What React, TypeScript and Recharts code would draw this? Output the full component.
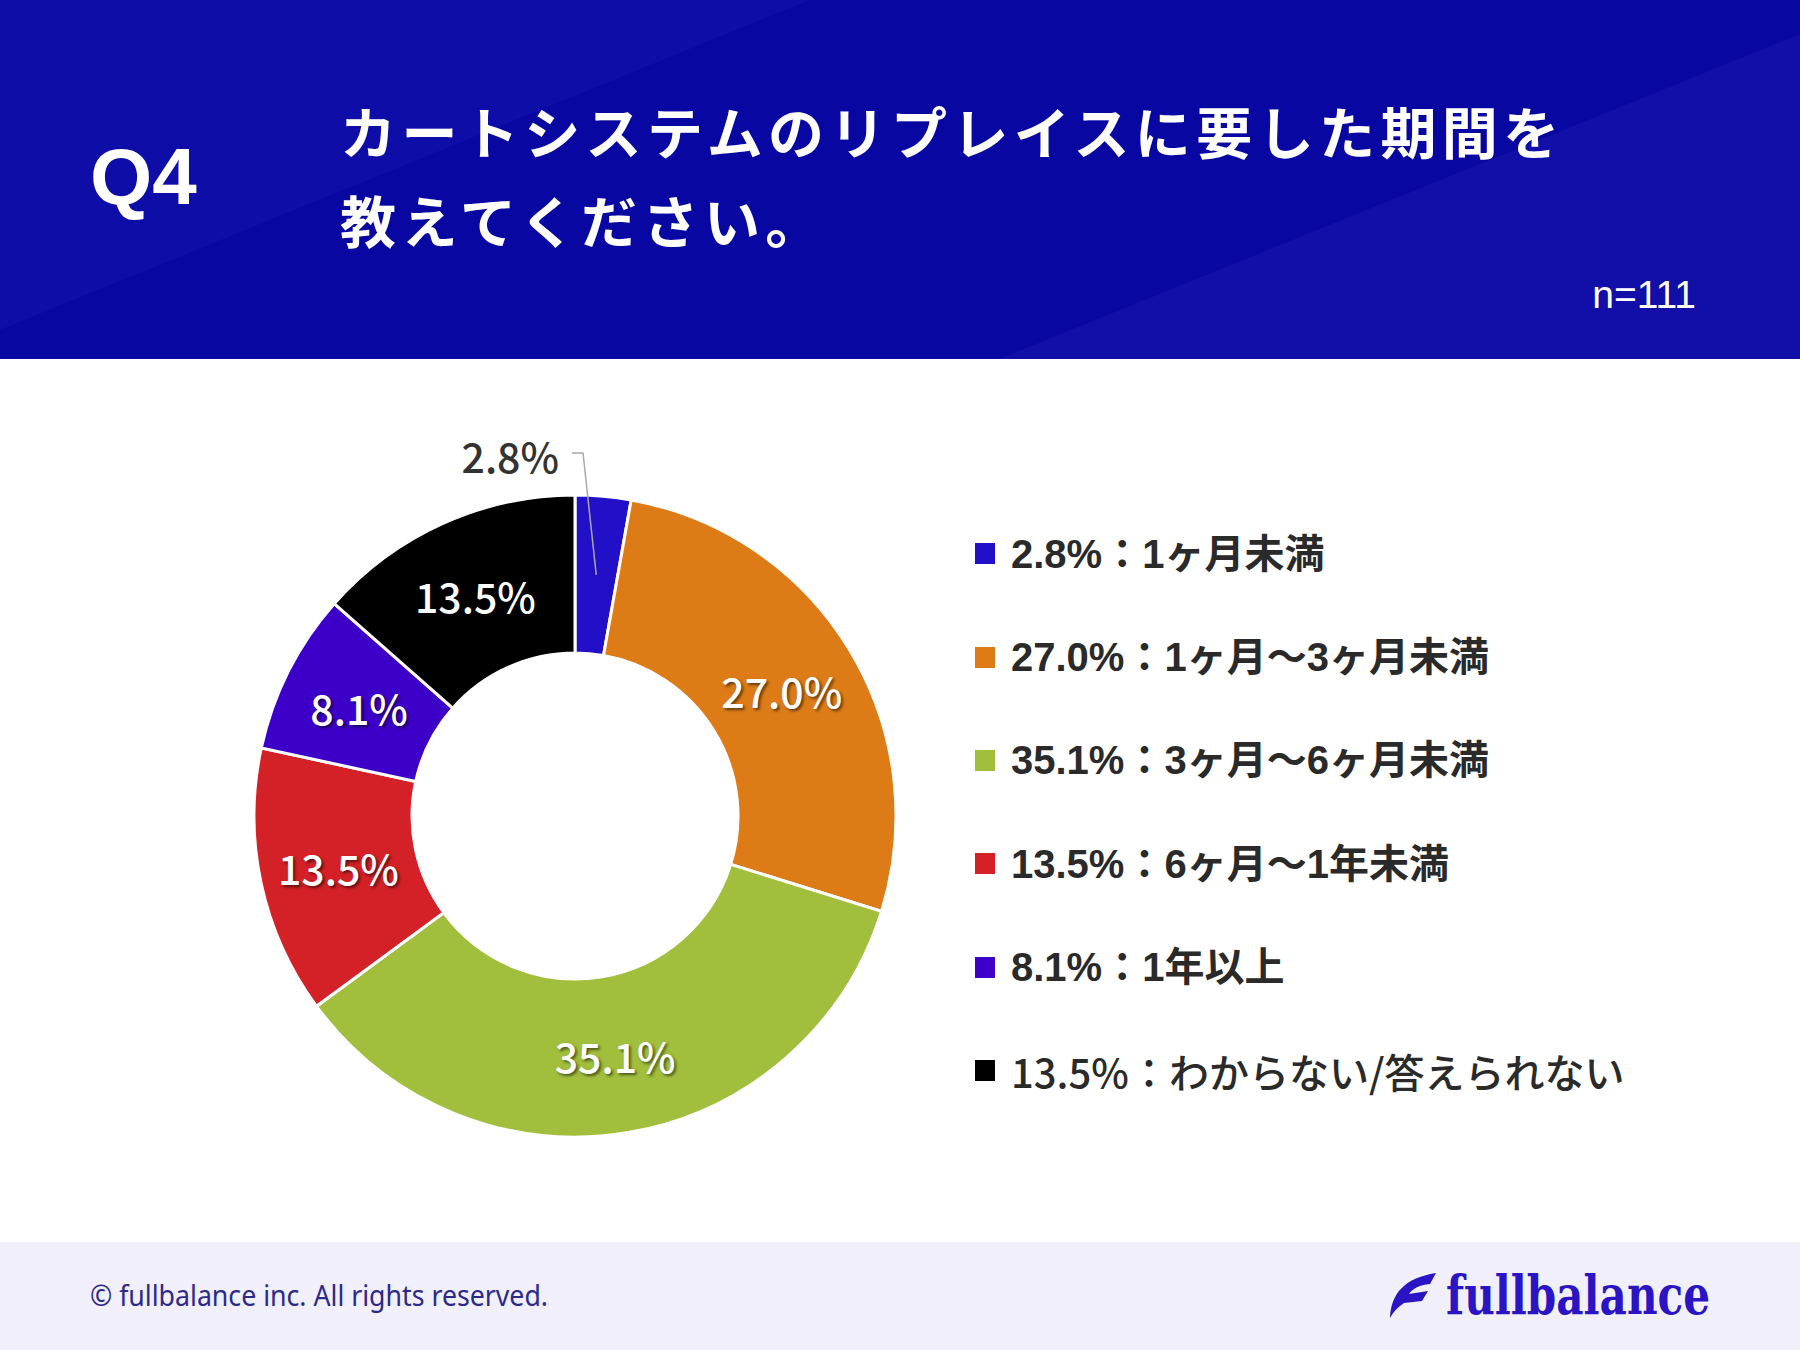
import React from 'react';
import { PieChart, Pie, Cell, Legend } from 'recharts';

const categories = [
  '1ヶ月未満',
  '1ヶ月〜3ヶ月未満',
  '3ヶ月〜6ヶ月未満',
  '6ヶ月〜1年未満',
  '1年以上',
  'わからない/答えられない',
];
const shares = [2.8, 27.0, 35.1, 13.5, 8.1, 13.5];
const sliceColors = ['#2110c8', '#dd7c17', '#a1bf3c', '#d42027', '#3d00c9', '#000000'];
const sampleLabel = 'n=111';
const questionNo = 'Q4';
const titleLines = ['カートシステムのリプレイスに要した期間を', '教えてください。'];

const data = categories.map((name, i) => ({ name, value: shares[i] }));

const RAD = Math.PI / 180;
const CJK = "'Noto Sans CJK JP', 'Noto Sans', sans-serif";
const LATIN_CJK = "'Liberation Sans', 'Noto Sans CJK JP', sans-serif";

const fmt = (v: number) => `${v.toFixed(1)}%`;

const renderLabel = (props: any) => {
  const { cx, cy, midAngle, innerRadius, outerRadius, value, index } = props;
  const r = (innerRadius + outerRadius) / 2;
  const x = cx + r * Math.cos(-midAngle * RAD);
  const y = cy + r * Math.sin(-midAngle * RAD);
  if (index === 0) {
    return (
      <g>
        <polyline
          points={`${x},${y} ${cx + 8},${cy - 363} ${cx - 3},${cy - 363}`}
          fill="none"
          stroke="#a9a9a9"
          strokeWidth={1.5}
        />
        <text
          x={cx - 16}
          y={cy - 343}
          textAnchor="end"
          fill="#333333"
          fontSize={41}
          fontFamily={CJK}
          fontWeight={500}
        >
          {fmt(value)}
        </text>
      </g>
    );
  }
  return (
    <text
      x={x}
      y={y}
      textAnchor="middle"
      dominantBaseline="central"
      fill="#ffffff"
      fontSize={41}
      fontFamily={CJK}
      fontWeight={500}
      style={{ textShadow: '2px 2px 3px rgba(0,0,0,0.55)' }}
    >
      {fmt(value)}
    </text>
  );
};

const renderLegend = () => (
  <div style={{ display: 'flex', flexDirection: 'column' }}>
    {data.map((d, i) => {
      const last = i === data.length - 1;
      return (
        <div
          key={d.name}
          style={{ height: 103.4, display: 'flex', alignItems: 'center', whiteSpace: 'nowrap' }}
        >
          <span
            style={{
              display: 'inline-block',
              width: 20,
              height: 21,
              background: sliceColors[i],
              marginRight: 16,
              flex: 'none',
            }}
          />
          <span
            style={{
              fontFamily: last ? CJK : LATIN_CJK,
              fontWeight: last ? 500 : 700,
              fontSize: 40,
              color: '#2a2a2a',
              lineHeight: '48px',
            }}
          >
            {`${fmt(d.value)}：${d.name}`}
          </span>
        </div>
      );
    })}
  </div>
);

const Header = () => (
  <svg width={1800} height={359} style={{ position: 'absolute', left: 0, top: 0 }}>
    <rect x={0} y={0} width={1800} height={359} fill="#0a08a5" />
    <polygon points="0,0 810,0 0,330" fill="#ffffff" fillOpacity={0.025} />
    <polygon points="0,330 0,359 1000,359 1800,34 1800,0 810,0" fill="#000050" fillOpacity={0.03} />
    <polygon points="1800,34 999,359 1800,359" fill="#ffffff" fillOpacity={0.03} />
    <text
      x={90}
      y={204}
      fill="#ffffff"
      fontSize={80}
      fontWeight={700}
      fontFamily="'Liberation Sans', Arial, sans-serif"
    >
      {questionNo}
    </text>
    {titleLines.map((t, i) => (
      <text
        key={t}
        x={340}
        y={154 + i * 89}
        fill="#ffffff"
        fontSize={56}
        fontWeight={700}
        fontFamily={CJK}
        letterSpacing={5.4}
      >
        {t}
      </text>
    ))}
    <text
      x={1696}
      y={308}
      textAnchor="end"
      fill="#ffffff"
      fontSize={39}
      fontFamily="'Liberation Sans', Arial, sans-serif"
    >
      {sampleLabel}
    </text>
  </svg>
);

const Footer = () => (
  <svg width={1800} height={108} style={{ position: 'absolute', left: 0, top: 1242 }}>
    <rect x={0} y={0} width={1800} height={108} fill="#f1f0fa" />
    <text
      x={90}
      y={64}
      fill="#2b2a8c"
      fontSize={29}
      fontFamily="'Noto Sans', sans-serif"
      textLength={458}
      lengthAdjust="spacingAndGlyphs"
    >
      © fullbalance inc. All rights reserved.
    </text>
    <path
      d="M 1390,76 C 1391,52 1404,36 1436,31 L 1430,42 C 1419,43 1412,47 1409,52 L 1428,49 L 1422,59 L 1404,61 C 1398,65 1393,70 1390,76 Z"
      fill="#2a14c4"
    />
    <text
      x={1446}
      y={72}
      fill="#2a14c4"
      fontSize={54}
      fontWeight={700}
      fontFamily="'DejaVu Serif', serif"
      textLength={264}
      lengthAdjust="spacingAndGlyphs"
    >
      fullbalance
    </text>
  </svg>
);

export default function App() {
  return (
    <div
      style={{
        position: 'absolute',
        left: 0,
        top: 0,
        width: 1800,
        height: 1350,
        background: '#ffffff',
        overflow: 'hidden',
      }}
    >
      <Header />
      <Footer />
      <div style={{ position: 'absolute', left: 0, top: 0 }}>
        <PieChart width={1800} height={1350} margin={{ top: 0, right: 0, bottom: 0, left: 0 }}>
          <Pie
            data={data}
            dataKey="value"
            nameKey="name"
            cx={575}
            cy={816}
            innerRadius={163}
            outerRadius={321}
            startAngle={90}
            endAngle={-270}
            stroke="#ffffff"
            strokeWidth={3}
            label={renderLabel}
            labelLine={false}
            isAnimationActive={false}
          >
            {data.map((d, i) => (
              <Cell key={d.name} fill={sliceColors[i]} />
            ))}
          </Pie>
          <Legend
            layout="vertical"
            align="right"
            verticalAlign="top"
            content={renderLegend}
            wrapperStyle={{ position: 'absolute', left: 975, top: 502, width: 800 }}
          />
        </PieChart>
      </div>
    </div>
  );
}
